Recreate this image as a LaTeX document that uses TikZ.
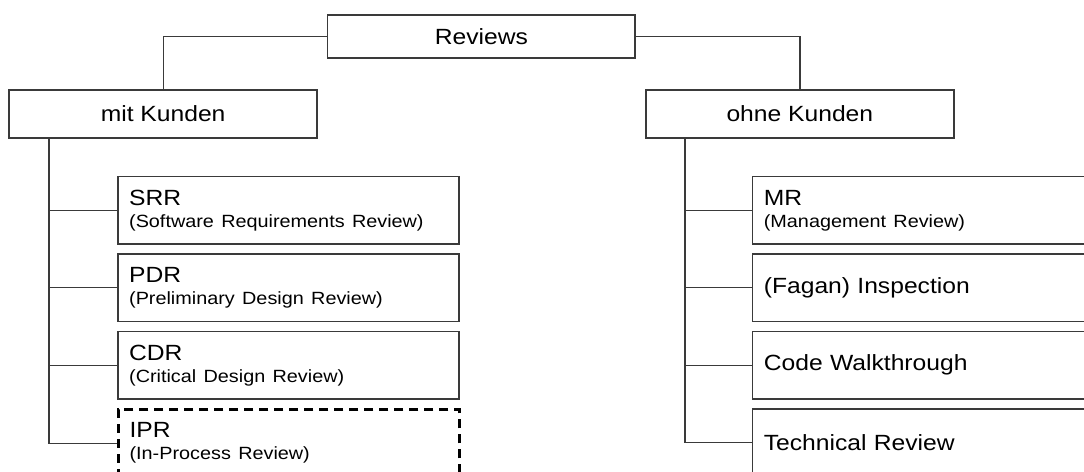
\documentclass[tikz,border=0pt]{standalone}
\usepackage{fontspec}
\setmainfont{Liberation Sans}[FakeStretch=1.12]
\definecolor{linegray}{HTML}{3A3A3A}
\newcommand{\subfont}{\fontsize{8.85}{11}\selectfont}
\begin{document}
\begin{tikzpicture}[x=0.5pt,y=-0.5pt,
    every node/.style={font=\fontsize{11}{11}\selectfont},
    headbox/.style={draw=linegray,line width=0.85pt,inner sep=0pt,
        minimum width=154pt,minimum height=24pt,anchor=north west},
    childbox/.style={draw=linegray,line width=0.85pt,inner xsep=5.65pt,inner ysep=0pt,
        text width=159.35pt,align=left,minimum height=33.75pt,anchor=north west},
    openbox/.style={draw=black,line width=1.3pt,dash pattern=on 4.5pt off 3pt},
    conn/.style={draw=linegray,line width=0.65pt}]
\useasboundingbox (0,0) rectangle (1084,472);
\clip (0,0) rectangle (1084,472);

% Macro for child box: name, left x, row, text
\newcommand{\childbox}[5][]{
    \node[childbox,#1] (#2) at (#3,175.7+#4*77.5) {#5};
}

% Root
\node[headbox,minimum width=153.8pt,minimum height=21.65pt] (reviews) at (326.7,14) {Reviews};

% Groups
\node[headbox] (mitk) at (8.3,89) {mit Kunden};
\node[headbox] (ohnek) at (645,89) {ohne Kunden};

% mit Kunden
\childbox{srr}{117}{0}{SRR\\{\subfont (Software Requirements Review)}}
\childbox{pdr}{117}{1}{PDR\\{\subfont (Preliminary Design Review)}}
\childbox{cdr}{117}{2}{CDR\\{\subfont (Critical Design Review)}}
\childbox[openbox]{ipr}{117}{3}{IPR\\{\subfont (In-Process Review)}}

% ohne Kunden
\childbox{mr}{751.7}{0}{MR\\{\subfont (Management Review)}}
\childbox{insp}{751.7}{1}{(Fagan) Inspection}
\childbox{walk}{751.7}{2}{Code Walkthrough}
\childbox{tech}{751.7}{3}{Technical Review}

% Connectors
\draw[conn] (reviews.west) -| (mitk.north);
\draw[conn] (reviews.east) -| (ohnek.north);

\coordinate (mitkbus) at ([xshift=20.35pt]mitk.south west);
\coordinate (ohnekbus) at ([xshift=20pt]ohnek.south west);

\draw[conn] (mitkbus) |- (ipr.west);
\foreach \n in {srr,pdr,cdr}
    \draw[conn] (mitkbus |- \n.west) -- (\n.west);

\draw[conn] (ohnekbus) |- (tech.west);
\foreach \n in {mr,insp,walk}
    \draw[conn] (ohnekbus |- \n.west) -- (\n.west);

\end{tikzpicture}
\end{document}
